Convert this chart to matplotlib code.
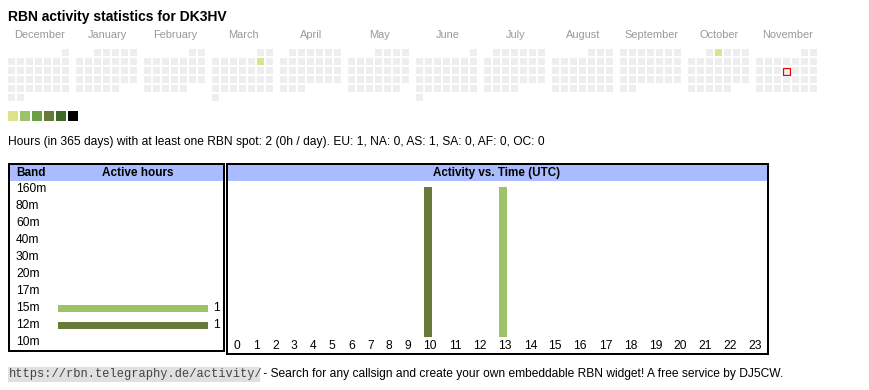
import datetime as dt
import matplotlib.pyplot as plt
from matplotlib.patches import Rectangle

# ---- data ----
months = ["December", "January", "February", "March", "April", "May", "June",
          "July", "August", "September", "October", "November"]
first_day = "2024-12-01"
last_day = "2025-11-30"
today = "2025-11-13"
active_days = ["2025-03-08", "2025-10-02"]
active_levels = [0, 0]          # index into level_colors
level_colors = ["#dde38a", "#9dc26a", "#6aa043", "#677a3a", "#3b6b27", "#000000"]

bands = ["160m", "80m", "60m", "40m", "30m", "20m", "17m", "15m", "12m", "10m"]
band_hours = [0, 0, 0, 0, 0, 0, 0, 1, 1, 0]
band_colors = ["#c0c0c0", "#c0c0c0", "#c0c0c0", "#c0c0c0", "#c0c0c0", "#c0c0c0",
               "#c0c0c0", "#9dc26a", "#677a3a", "#c0c0c0"]

hours = list(range(24))
active_hours = [10, 13]
active_hour_band = ["12m", "15m"]
active_hour_value = [1, 1]

title = "RBN activity statistics for DK3HV"
summary = ("Hours (in 365 days) with at least one RBN spot: 2 (0h / day). "
           "EU: 1, NA: 0, AS: 1, SA: 0, AF: 0, OC: 0")
footer_url = "https://rbn.telegraphy.de/activity/"
footer_text = " - Search for any callsign and create your own embeddable RBN widget! A free service by DJ5CW."

W, H = 870, 390
PT = 0.72  # px -> pt at dpi 100
SANS = ["Liberation Sans", "DejaVu Sans"]

fig = plt.figure(figsize=(W / 100, H / 100), dpi=100)
ax = fig.add_axes([0, 0, 1, 1])
ax.set_xlim(0, W)
ax.set_ylim(H, 0)
ax.axis("off")


def px_axes(x0, y0, x1, y1):
    a = fig.add_axes([x0 / W, 1 - y1 / H, (x1 - x0) / W, (y1 - y0) / H])
    a.axis("off")
    return a


# title
ax.text(8, 17, title, fontsize=13.9 * PT, fontweight="bold", family=SANS,
        va="center", ha="left")

# ---- calendar heatmap ----
d0 = dt.date.fromisoformat(first_day)
d1 = dt.date.fromisoformat(last_day)
act = {dt.date.fromisoformat(s): lv for s, lv in zip(active_days, active_levels)}
tday = dt.date.fromisoformat(today)
for m, name in enumerate(months):
    bx = 8 + m * 68
    ax.text(bx + 31.5, 35, name, fontsize=11 * PT, color="#999999", family=SANS,
            ha="center", va="center")
d = d0
while d <= d1:
    m = (d.year - d0.year) * 12 + d.month - d0.month
    off = d.replace(day=1).weekday()
    row = (d.day - 1 + off) // 7
    col = d.weekday()
    x = 8 + m * 68 + col * 9
    y = 49 + row * 9
    fc = level_colors[act[d]] if d in act else "#eeeeee"
    if d == tday:
        ax.add_patch(Rectangle((x + 0.5, y + 0.5), 7, 7, facecolor=fc,
                               edgecolor="#ee0000", lw=1.2 * PT))
    else:
        ax.add_patch(Rectangle((x, y), 7, 7, facecolor=fc, edgecolor="none"))
    d += dt.timedelta(days=1)

for i, c in enumerate(level_colors):
    ax.add_patch(Rectangle((8 + i * 12, 111), 10, 10, facecolor=c, edgecolor="none"))

ax.text(8, 142, summary, fontsize=12 * PT, family=SANS, va="center", ha="left")

# ---- band table ----
ax.add_patch(Rectangle((10, 165), 213, 16, facecolor="#aabbff", edgecolor="none"))
ax.add_patch(Rectangle((9, 164), 215, 187, facecolor="none", edgecolor="black", lw=2 * PT))
ax.text(16, 173, "Band", fontsize=11.8 * PT, fontweight="bold", family=SANS, va="center")
ax.text(138, 173, "Active hours", fontsize=11.8 * PT, fontweight="bold", family=SANS,
        va="center", ha="center")

axb = px_axes(58, 180.5, 208, 350.5)
axb.set_ylim(len(bands) - 0.5, -0.5)
axb.set_xlim(0, max(band_hours))
ypos = list(range(len(bands)))
for yi, b in enumerate(bands):
    ax.text(16, 189 + 17 * yi, b, fontsize=12 * PT, family=SANS, va="center")
shown = [i for i, v in enumerate(band_hours) if v > 0]
axb.barh([ypos[i] for i in shown], [band_hours[i] for i in shown], height=7 / 17,
         color=[band_colors[i] for i in shown])
for i in shown:
    axb.annotate(str(band_hours[i]), (band_hours[i], ypos[i]), xytext=(3.6, 0),
                 textcoords="offset points", fontsize=12 * PT, family=SANS,
                 va="center", ha="left", annotation_clip=False)

# ---- hour table ----
ax.add_patch(Rectangle((228, 165), 539, 16, facecolor="#aabbff", edgecolor="none"))
ax.add_patch(Rectangle((227, 164), 541, 189.5, facecolor="none", edgecolor="black", lw=2 * PT))
ax.text(497, 173, "Activity vs. Time (UTC)", fontsize=11.6 * PT, fontweight="bold",
        family=SANS, va="center", ha="center")

# column widths follow label width (1 or 2 digits)
col_w = [19 if h < 10 else 25 for h in hours]
centers = []
acc = 0
for w in col_w:
    centers.append(acc + w / 2)
    acc += w
axh = px_axes(227.8, 187, 227.8 + acc, 337)
axh.set_xlim(0, acc)
axh.set_ylim(0, max(active_hour_value))
bcol = dict(zip(bands, band_colors))
axh.bar([centers[h] - 2 for h in active_hours], active_hour_value, width=8,
        color=[bcol[b] for b in active_hour_band])
for h in hours:
    ax.text(227.8 + centers[h], 346, str(h), fontsize=12 * PT, family=SANS,
            ha="center", va="center")

# ---- footer ----
ax.add_patch(Rectangle((8, 367), 252, 15, facecolor="#e0e0e0", edgecolor="none"))
ax.text(8.5, 374.5, footer_url, fontsize=12 * PT, color="#444444",
        family=["Liberation Mono", "DejaVu Sans Mono"], va="center", ha="left")
ax.text(260, 374.5, footer_text, fontsize=12 * PT,
        family=["Liberation Sans Narrow", "Liberation Sans", "DejaVu Sans"],
        va="center", ha="left")

fig.savefig("out.png", dpi=100)
